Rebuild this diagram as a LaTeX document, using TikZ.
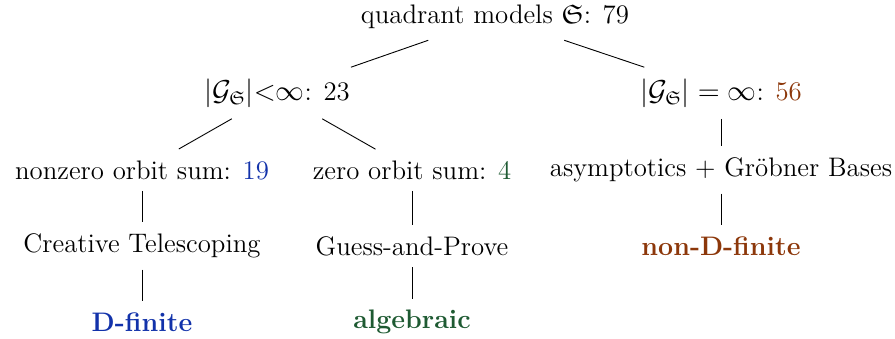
\documentclass[tikz,border=0pt]{standalone}
\usepackage{amssymb}
\definecolor{dblue}{RGB}{18,50,170}
\definecolor{dgreen}{RGB}{30,90,50}
\definecolor{dbrown}{RGB}{140,55,10}
\tikzset{
  tn/.style={inner xsep=2pt, inner ysep=5.5pt, font=\fontsize{13.4}{16}\selectfont},
  edge/.style={line width=0.45pt, black}
}
\begin{document}
\begin{tikzpicture}[x=0.5pt,y=-0.5pt]
\useasboundingbox (0,0) rectangle (895,338);
\node[tn] (root) at (495,17) {quadrant models $\mathfrak{S}$: 79};
\node[tn] (fin) at (277,93) {$|\mathcal{G}_{\mathfrak{S}}|{<}\infty$: 23};
\node[tn] (inf) at (721,93) {$|\mathcal{G}_{\mathfrak{S}}| = \infty$: \textcolor{dbrown}{56}};
\node[tn] (nz) at (142,170) {nonzero orbit sum: \textcolor{dblue}{19}};
\node[tn] (z) at (412,170) {zero orbit sum: \textcolor{dgreen}{4}};
\node[tn] (asy) at (721,170) {asymptotics + Gr\"obner Bases};
\node[tn] (ct) at (142,246) {Creative Telescoping};
\node[tn] (gp) at (412,246) {Guess-and-Prove};
\node[tn] (ndf) at (721,246) {\textcolor{dbrown}{\textbf{non-D-finite}}};
\node[tn] (df) at (142,322) {\textcolor{dblue}{\textbf{D-finite}}};
\node[tn] (alg) at (412,322) {\textcolor{dgreen}{\textbf{algebraic}}};
\draw[edge] (root) -- (fin);
\draw[edge] (root) -- (inf);
\draw[edge] (fin) -- (nz);
\draw[edge] (fin) -- (z);
\draw[edge] (inf) -- (asy);
\draw[edge] (nz) -- (ct);
\draw[edge] (z) -- (gp);
\draw[edge] (asy) -- (ndf);
\draw[edge] (ct) -- (df);
\draw[edge] (gp) -- (alg);
\end{tikzpicture}
\end{document}
